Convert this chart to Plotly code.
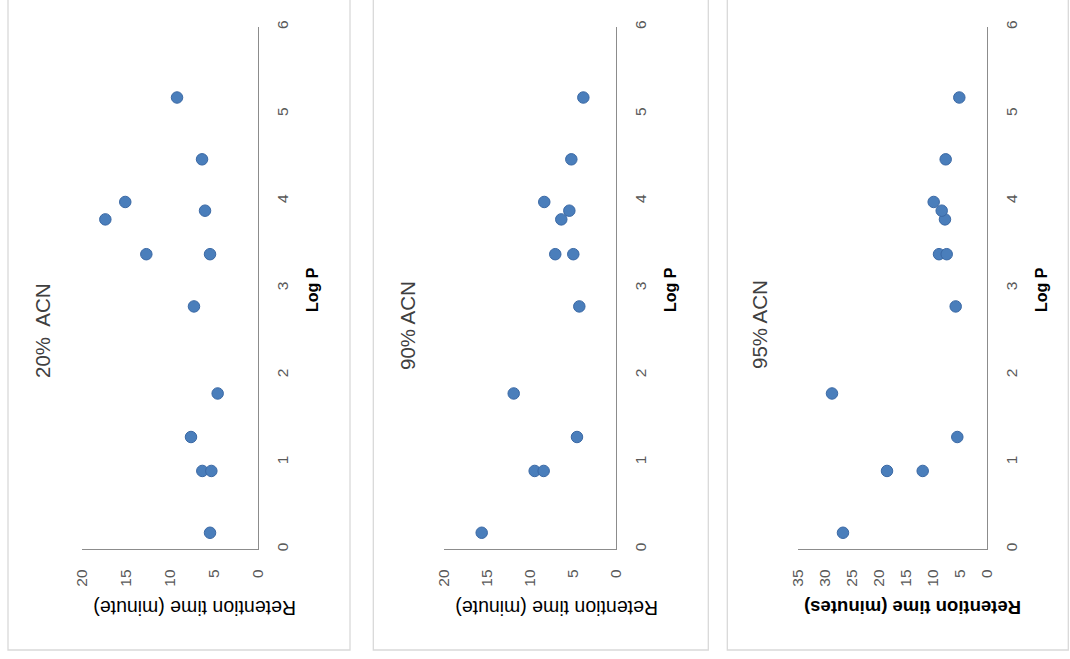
import plotly.graph_objects as go

# Data (Log P vs retention time)
log_p = [0.19, 0.90, 0.90, 1.29, 1.79, 2.79, 3.39, 3.39, 3.79, 3.89, 3.99, 4.48, 5.19]
rt_20 = [5.41, 6.29, 5.26, 7.58, 4.54, 7.24, 12.67, 5.41, 17.34, 5.98, 15.07, 6.32, 9.17]
rt_90 = [15.61, 9.44, 8.39, 4.51, 11.88, 4.24, 7.04, 4.94, 6.34, 5.40, 8.32, 5.17, 3.77]
rt_95 = [26.70, 18.52, 11.89, 5.46, 28.74, 5.76, 8.86, 7.43, 7.75, 8.36, 9.85, 7.62, 5.09]

titles = ["20%  ACN", "90% ACN", "95% ACN"]
rt_titles = ["Retention time (minute)", "Retention time (minute)", "Retention time (minutes)"]
rt_max = [20, 20, 35]
logp_ticks = [0, 1, 2, 3, 4, 5, 6]

W, H = 1070, 659
def px(x): return x / W
def py(y): return 1 - y / H

# layout geometry (pixels)
plot_x = [(82, 257.5), (444, 615.7), (798.3, 986.7)]
plot_y = (27, 549.3)
panel_box = [(8, 350), (373.3, 708.3), (727.3, 1068.3)]
title_pos = [(42, 331), (407, 326), (759, 325)]
logp_title_pos = [(313, 290), (671, 290), (1042, 290)]
rt_title_pos = [(195, 608), (557, 608), (913, 608)]

FONT = "Liberation Sans"
TICK_COLOR = "#595959"
AXIS_COLOR = "#8c8c8c"

fig = go.Figure()
series = [rt_20, rt_90, rt_95]
shapes = []
annotations = []
for i in range(3):
    xa = "x" if i == 0 else f"x{i+1}"
    ya = "y" if i == 0 else f"y{i+1}"
    fig.add_trace(go.Scatter(
        x=series[i], y=log_p, mode="markers", xaxis=xa, yaxis=ya,
        marker=dict(size=11.5, color="#4a7ebb", line=dict(color="#3b69a5", width=1)),
        showlegend=False, hoverinfo="x+y"))
    xkey = "xaxis" if i == 0 else f"xaxis{i+1}"
    ykey = "yaxis" if i == 0 else f"yaxis{i+1}"
    fig.update_layout(**{
        xkey: dict(domain=[px(plot_x[i][0]), px(plot_x[i][1])], range=[rt_max[i], 0],
                   anchor=ya, showgrid=False, zeroline=False, showline=True,
                   automargin=False,
                   linecolor=AXIS_COLOR, linewidth=1, ticks="", tickmode="linear",
                   tick0=0, dtick=5, tickangle=-90, ticklabelstandoff=13,
                   tickfont=dict(family=FONT, size=15.5, color=TICK_COLOR)),
        ykey: dict(domain=[py(plot_y[1]), py(plot_y[0])], range=[0, 6], side="right",
                   anchor=xa, showgrid=False, zeroline=False, showline=True,
                   automargin=False,
                   linecolor=AXIS_COLOR, linewidth=1, ticks="", tickvals=logp_ticks,
                   tickangle=-90, ticklabelstandoff=11,
                   tickfont=dict(family=FONT, size=15.5, color=TICK_COLOR)),
    })
    # panel border
    shapes.append(dict(type="rect", xref="paper", yref="paper",
                       x0=px(panel_box[i][0]), x1=px(panel_box[i][1]),
                       y0=py(650), y1=py(-10),
                       line=dict(color="#d9d9d9", width=1.3), fillcolor="rgba(0,0,0,0)",
                       layer="below"))
    annotations.append(dict(text=titles[i], xref="paper", yref="paper",
                            x=px(title_pos[i][0]), y=py(title_pos[i][1]),
                            xanchor="center", yanchor="middle",
                            showarrow=False, textangle=-90,
                            font=dict(family=FONT, size=20.5, color="#404040")))
    annotations.append(dict(text="<b>Log P</b>", xref="paper", yref="paper",
                            x=px(logp_title_pos[i][0]), y=py(logp_title_pos[i][1]),
                            xanchor="center", yanchor="middle",
                            showarrow=False, textangle=-90,
                            font=dict(family=FONT, size=16, color="#000000")))
    rt_text = rt_titles[i] if i < 2 else f"<b>{rt_titles[i]}</b>"
    annotations.append(dict(text=rt_text, xref="paper", yref="paper",
                            x=px(rt_title_pos[i][0]), y=py(rt_title_pos[i][1]),
                            xanchor="center", yanchor="middle",
                            showarrow=False, textangle=180,
                            font=dict(family=FONT, size=19.5 if i < 2 else 18.5,
                                      color="#000000")))

fig.update_layout(width=W, height=H, autosize=False,
                  margin=dict(l=0, r=0, t=0, b=0, pad=0),
                  paper_bgcolor="white", plot_bgcolor="white",
                  shapes=shapes, annotations=annotations)

fig.write_html("out.html", config={"displayModeBar": False},
               post_script="document.body.style.margin='0px';"
                           "document.documentElement.style.margin='0px';"
                           "document.body.style.overflow='hidden';")
